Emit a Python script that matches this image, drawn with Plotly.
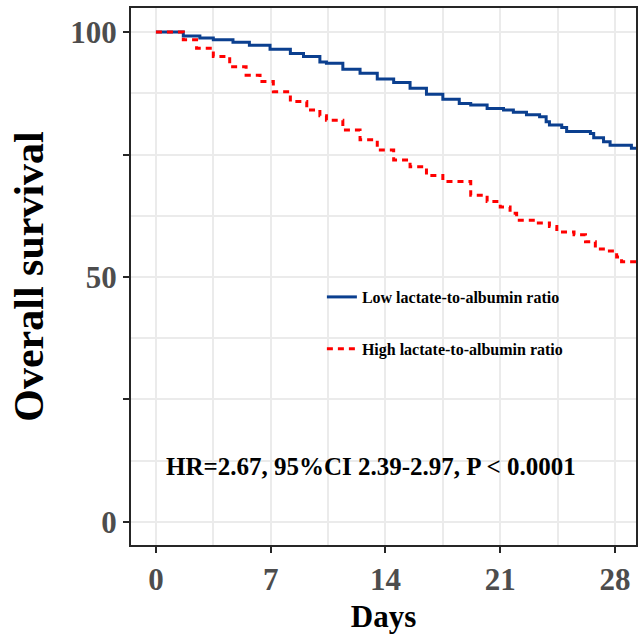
import plotly.graph_objects as go

# Kaplan-Meier curves (days, overall survival %)
low_days = [0, 1.06, 1.67, 2.68, 3.5, 4.7, 5.7, 6.96, 8.2, 9.0, 10.0, 10.4, 11.4, 12.45, 13.5, 14.5,
            15.5, 16.5, 17.5, 18.5, 19.2, 20.2, 21.2, 21.8, 22.6, 23.4, 23.8, 24.0, 24.75, 25.05,
            26.5, 26.7, 27.3, 27.7, 29.0, 29.3]
low_surv = [100, 100, 99.2, 98.8, 98.4, 97.9, 97.3, 96.5, 95.6, 95.0, 93.9, 93.6, 92.4, 91.6, 90.4, 89.7,
            88.5, 87.3, 86.3, 85.4, 85.1, 84.4, 84.1, 83.6, 83.1, 82.7, 81.7, 81.0, 80.5, 79.7,
            79.3, 78.4, 77.6, 76.9, 76.3, 76.3]

high_days = [0, 1.06, 1.67, 2.48, 3.5, 4.5, 5.5, 6.35, 7.16, 8.2, 9.2, 10.0, 10.4, 11.4, 12.45, 13.5,
             14.5, 15.5, 16.5, 17.5, 19.2, 20.2, 21.0, 21.6, 22.0, 23.2, 24.0, 24.45, 25.5, 26.2,
             26.8, 27.5, 28.1, 28.4, 29.3]
high_surv = [100, 100, 98.4, 96.7, 95.0, 92.9, 91.2, 89.9, 87.8, 85.8, 84.1, 82.9, 82.0, 80.0, 78.0, 75.9,
             73.9, 72.5, 70.7, 69.5, 66.7, 65.4, 64.3, 63.0, 61.6, 61.0, 60.3, 59.2, 58.6, 57.2,
             55.7, 55.3, 54.1, 53.1, 52.8]

x_ticks = [0, 7, 14, 21, 28]
y_ticks = [0, 25, 50, 75, 100]
y_ticktext = ["0", "", "50", "", "100"]

series_names = ["Low lactate-to-albumin ratio", "High lactate-to-albumin ratio"]
annotation_text = "HR=2.67, 95%CI 2.39-2.97, P < 0.0001"

SERIF = "Liberation Serif"

fig = go.Figure()
fig.add_trace(go.Scatter(
    x=low_days, y=low_surv, mode="lines", line_shape="hv",
    line=dict(color="#0B3F8F", width=3), name=series_names[0], legendgroup="a"))
fig.add_trace(go.Scatter(
    x=high_days, y=high_surv, mode="lines", line_shape="hv",
    line=dict(color="#FF0000", width=3, dash="6px,5px"), name=series_names[1], legendgroup="b"))

fig.add_annotation(x=13.1, y=11.4, xref="x", yref="y", text=annotation_text, showarrow=False,
                   font=dict(family=SERIF, size=25, color="black", weight="bold"))

axis_common = dict(
    showline=True, linecolor="#262626", linewidth=2, mirror=True,
    ticks="outside", ticklen=6, tickwidth=2, tickcolor="#262626",
    showgrid=True, gridcolor="#EBEBEB", gridwidth=2, zeroline=False,
    tickfont=dict(family=SERIF, size=31, color="#4D4D4D", weight="bold"),
)

fig.update_xaxes(
    **axis_common, range=[-1.52, 29.28], tickvals=x_ticks,
    minor=dict(dtick=3.5, tick0=0, showgrid=True, gridcolor="#EBEBEB", gridwidth=2, ticks=""),
    title=dict(text="Days", font=dict(family=SERIF, size=31, color="black", weight="bold"), standoff=10),
)
fig.update_yaxes(
    **axis_common, range=[-4.7, 104.9], tickvals=y_ticks, ticktext=y_ticktext,
    minor=dict(dtick=12.5, tick0=0, showgrid=True, gridcolor="#EBEBEB", gridwidth=2, ticks=""),
    title=dict(text="Overall survival", font=dict(family=SERIF, size=42, color="black", weight="bold"), standoff=14),
)

fig.update_layout(
    width=640, height=634,
    margin=dict(l=131, r=4, t=8, b=89, autoexpand=False),
    paper_bgcolor="white", plot_bgcolor="white",
    legend=dict(x=0.378, y=0.4134, xanchor="left", yanchor="middle",
                bgcolor="rgba(0,0,0,0)", tracegroupgap=28, itemwidth=30,
                font=dict(family=SERIF, size=16, color="black", weight="bold")),
    showlegend=True,
)

# remove the default page margin so the 640x634 figure fills the window exactly
fig.write_html("out.html", config={"displayModeBar": False},
               post_script="document.body.style.margin='0';document.body.style.overflow='hidden';")
